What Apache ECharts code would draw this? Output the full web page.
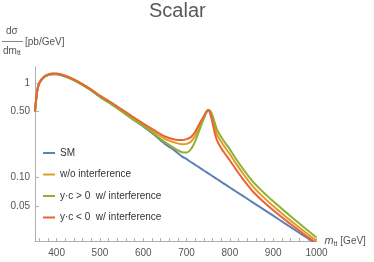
<!DOCTYPE html>
<html><head><meta charset="utf-8">
<script src="https://cdn.jsdelivr.net/npm/echarts@6/dist/echarts.min.js"></script>
<style>html,body{margin:0;padding:0;background:#fff}#c{width:374px;height:262px}</style>
</head><body><div id="c"></div>
<script>
// invariant mass m_tt [GeV]
const mass  = [350,355,360,370,380,390,400,420,440,460,480,500,525,550,575,600,625,650,675,690,700,710,720,730,740,745,750,755,760,765,770,780,790,800,815,830,850,875,900,925,950,975,1000];
// dσ/dm_tt [pb/GeV]
const sm    = [0.50,0.82,1.00,1.15,1.22,1.25,1.25,1.18,1.08,0.96,0.84,0.72,0.61,0.51,0.42,0.35,0.285,0.228,0.19,0.167,0.157,0.1465,0.1367,0.1275,0.119,0.115,0.111,0.1073,0.1036,0.1001,0.0967,0.0902,0.0842,0.0786,0.0709,0.064,0.0557,0.0469,0.0395,0.0332,0.028,0.0236,0.0198];
const woInt = [0.505,0.83,1.01,1.16,1.23,1.262,1.262,1.19,1.09,0.97,0.85,0.73,0.62,0.52,0.432,0.362,0.305,0.258,0.234,0.226,0.228,0.24,0.28,0.35,0.44,0.49,0.52,0.49,0.42,0.345,0.29,0.24,0.205,0.177,0.139,0.111,0.084,0.0637,0.05,0.04,0.0323,0.0262,0.0214];
const ycPos = [0.50,0.82,1.00,1.15,1.22,1.25,1.25,1.18,1.075,0.955,0.835,0.715,0.605,0.505,0.418,0.354,0.291,0.238,0.201,0.186,0.185,0.200,0.244,0.323,0.425,0.482,0.52,0.507,0.455,0.383,0.325,0.270,0.231,0.1995,0.156,0.1245,0.0942,0.0715,0.0561,0.0447,0.0358,0.0287,0.0232];
const ycNeg = [0.51,0.84,1.02,1.17,1.245,1.275,1.275,1.205,1.10,0.98,0.86,0.74,0.63,0.53,0.445,0.375,0.319,0.273,0.252,0.250,0.256,0.269,0.307,0.375,0.45,0.496,0.52,0.468,0.379,0.300,0.250,0.205,0.176,0.152,0.1205,0.0967,0.074,0.0568,0.0451,0.0365,0.0298,0.0244,0.0202];

const seriesNames = ['SM','w/o interference','y\u00b7c > 0  w/ interference','y\u00b7c < 0  w/ interference'];
const seriesData = [sm, woInt, ycPos, ycNeg];
const colors = ['#5E81B5','#E19C24','#8FB032','#EB6235'];

const xTickLabels = [400,500,600,700,800,900,1000];
const xMinorTicks = [360,380,400,420,440,460,480,500,520,540,560,580,600,620,640,660,680,700,720,740,760,780,800,820,840,860,880,900,920,940,960,980,1000];
const yTicks = [0.05,0.1,0.5,1];
const yTickLabels = ['0.05','0.10','0.50','1'];

const FONT = 'Liberation Sans, Arial, sans-serif';
const chart = echarts.init(document.getElementById('c'), null, {renderer:'canvas'});

chart.setOption({
  animation:false,
  backgroundColor:'#fff',
  title:{text:'Scalar', left:149, top:1, padding:0,
    textStyle:{fontFamily:FONT, fontSize:20, fontWeight:'normal', color:'#5a5a5a'}},
  grid:{left:35, right:57.5, top:67, bottom:21, containLabel:false},
  legend:{orient:'vertical', left:38, top:142, itemWidth:12, itemHeight:2, itemGap:9.5,
    icon:'rect', data:seriesNames,
    textStyle:{fontFamily:FONT, fontSize:10, color:'#333', lineHeight:12}},
  xAxis:{type:'value', min:350, max:1000,
    name:'{i|m}{s|tt} [GeV]', nameLocation:'end', nameGap:8,
    nameTextStyle:{fontFamily:FONT, fontSize:10, color:'#555',
      rich:{i:{fontStyle:'italic', fontSize:11, color:'#555', fontFamily:FONT},
            s:{fontSize:7, color:'#555', padding:[6,0,0,0], fontFamily:FONT}}},
    axisLine:{lineStyle:{color:'#b0b0b0', width:1}},
    axisTick:{inside:true, length:3, lineStyle:{color:'#b0b0b0'}, customValues:xMinorTicks},
    axisLabel:{customValues:xTickLabels, margin:7, fontFamily:FONT, fontSize:10, color:'#555',
      formatter:function(v){ return String(Math.round(v)); }},
    splitLine:{show:false}},
  yAxis:{type:'log', logBase:10, min:0.0213, max:1.49,
    axisLine:{show:true, lineStyle:{color:'#b0b0b0', width:1}},
    axisTick:{show:true, inside:true, length:4, lineStyle:{color:'#b0b0b0'}, customValues:yTicks},
    axisLabel:{customValues:yTicks, margin:5, fontFamily:FONT, fontSize:10, color:'#555',
      formatter:function(v){ for(let i=0;i<yTicks.length;i++){ if(Math.abs(v-yTicks[i])<1e-6*yTicks[i]+1e-9) return yTickLabels[i]; } return ''; }},
    splitLine:{show:false}},
  graphic:[
    {type:'text', left:6, top:26, style:{text:'d\u03c3', fontFamily:FONT, fontSize:10, fill:'#555'}},
    {type:'line', shape:{x1:2, y1:41.5, x2:23, y2:41.5}, style:{stroke:'#666', lineWidth:0.8}},
    {type:'text', left:3, top:46, style:{text:'{a|dm}{s|tt}', fontFamily:FONT, fontSize:10, fill:'#555',
      rich:{a:{fontSize:10, fill:'#555', fontFamily:FONT}, s:{fontSize:7, fill:'#555', padding:[5,0,0,0], fontFamily:FONT}}}},
    {type:'text', left:25, top:37, style:{text:'[pb/GeV]', fontFamily:FONT, fontSize:10, fill:'#555'}}
  ],
  series: seriesNames.map((n,k)=>({
    name:n, type:'line', showSymbol:false, smooth:0.25, clip:true,
    color:colors[k], lineStyle:{width:2, color:colors[k]},
    data: mass.map((m,i)=>[m, seriesData[k][i]])
  }))
});
</script></body></html>
